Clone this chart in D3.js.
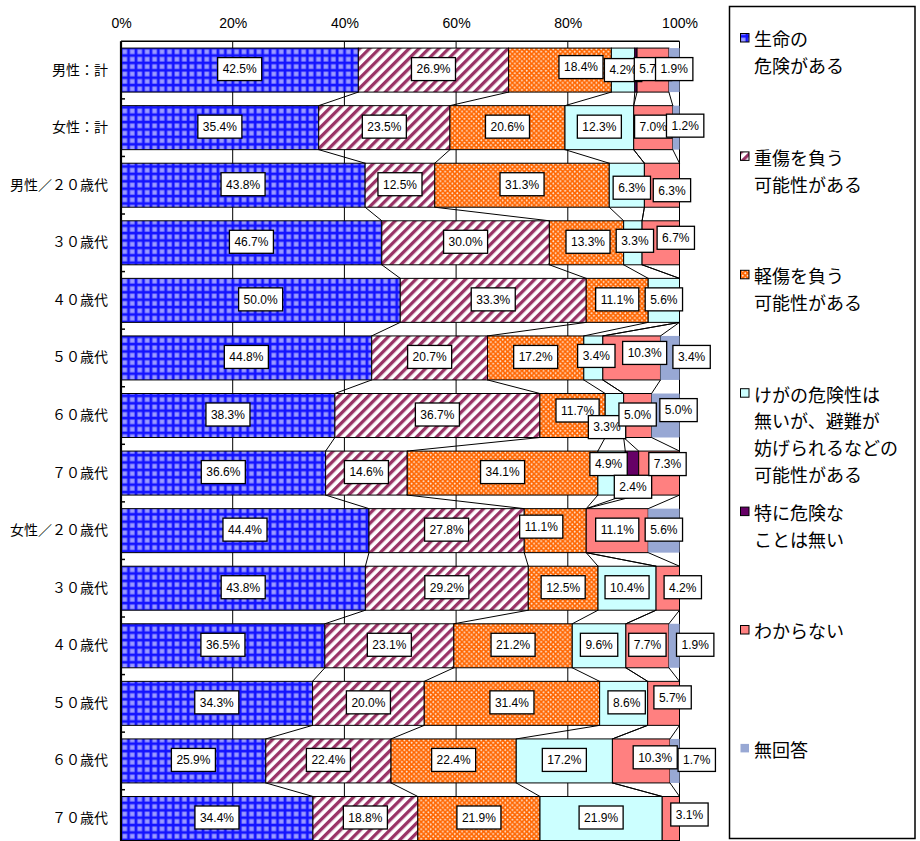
<!DOCTYPE html>
<html>
<head>
<meta charset="utf-8">
<script src="https://cdn.jsdelivr.net/npm/d3@7"></script>
<style>
  body { margin: 0; background: #fff; }
  svg { display: block; }
</style>
</head>
<body>
<svg id="chart" width="920" height="841"></svg>
<script>
// ---- data ----
const categories = ["男性：計", "女性：計", "男性／２０歳代", "３０歳代", "４０歳代", "５０歳代", "６０歳代", "７０歳代",
                    "女性／２０歳代", "３０歳代", "４０歳代", "５０歳代", "６０歳代", "７０歳代"];
const seriesNames = ["生命の危険がある", "重傷を負う可能性がある", "軽傷を負う可能性がある",
                     "けがの危険性は無いが、避難が妨げられるなどの可能性がある", "特に危険なことは無い", "わからない", "無回答"];
const legendLines = [["生命の", "危険がある"], ["重傷を負う", "可能性がある"], ["軽傷を負う", "可能性がある"],
                     ["けがの危険性は", "無いが、避難が", "妨げられるなどの", "可能性がある"],
                     ["特に危険な", "ことは無い"], ["わからない"], ["無回答"]];
const lifeThreat    = [42.5, 35.4, 43.8, 46.7, 50.0, 44.8, 38.3, 36.6, 44.4, 43.8, 36.5, 34.3, 25.9, 34.4];
const seriousInjury = [26.9, 23.5, 12.5, 30.0, 33.3, 20.7, 36.7, 14.6, 27.8, 29.2, 23.1, 20.0, 22.4, 18.8];
const minorInjury   = [18.4, 20.6, 31.3, 13.3, 11.1, 17.2, 11.7, 34.1, 11.1, 12.5, 21.2, 31.4, 22.4, 21.9];
const evacuation    = [4.2, 12.3, 6.3, 3.3, 5.6, 3.4, 3.3, 4.9, 0, 10.4, 9.6, 8.6, 17.2, 21.9];
const noDanger      = [0.4, 0, 0, 0, 0, 0, 0, 2.4, 0, 0, 0, 0, 0, 0];
const unknown       = [5.7, 7.0, 6.3, 6.7, 0, 10.3, 5.0, 7.3, 11.1, 4.2, 7.7, 5.7, 10.3, 3.1];
const noAnswer      = [1.9, 1.2, 0, 0, 0, 3.4, 5.0, 0, 5.6, 0, 1.9, 0, 1.7, 0];
const tickValues    = [0, 20, 40, 60, 80, 100];

const seriesValues = [lifeThreat, seriousInjury, minorInjury, evacuation, noDanger, unknown, noAnswer];
const rows = categories.map((c, i) => {
  const r = { idx: i };
  seriesNames.forEach((s, k) => { r[s] = seriesValues[k][i]; });
  return r;
});

// ---- layout ----
const svg = d3.select("#chart");
const plotTop = 41.3;
const x = d3.scaleLinear().domain([0, 1]).range([121, 679.5]);
const y = d3.scaleBand().domain(d3.range(categories.length))
  .range([plotTop, plotTop + 14 * 57.57]).paddingInner(0.2357).paddingOuter(0.1178);
const bw = y.bandwidth();

// label nudges for crowded segments: [row, series, dx, dy]
const labelNudges = [
  [0, 2, 21, -2], [0, 3, 0, 1],
  [1, 6, 9, -1],
  [2, 3, 5, 3.5], [2, 5, 10, 6],
  [3, 2, 1.5, 0], [3, 3, 2, -1], [3, 5, 15, -4],
  [5, 3, 3, -1], [5, 5, 13, -4], [5, 6, 21.6, 0],
  [6, 2, 5, -4], [6, 3, -7.4, 12.6], [6, 6, 13, -4.4],
  [7, 3, -3, -8], [7, 4, 1, 14.7], [7, 5, 8.4, -8],
  [8, 2, -14, -3],
  [9, 5, 15, 0],
  [10, 6, 21, 0],
  [11, 3, 3, 0], [11, 5, 9, -5],
  [12, 5, 14, -2.6], [12, 6, 22, 0],
  [13, 5, 18.6, -3]
];
const nudge = new Map(labelNudges.map(d => [d[0] + "_" + d[1], [d[2], d[3]]]));

// ---- fill patterns ----
const defs = svg.append("defs");
const pGrid = defs.append("pattern").attr("id", "pat-grid").attr("patternUnits", "userSpaceOnUse")
  .attr("width", 7.45).attr("height", 7.4).attr("x", 121).attr("y", 48);
pGrid.append("rect").attr("width", 7.45).attr("height", 7.4).attr("fill", "#1414ff");
pGrid.append("rect").attr("x", 1.4).attr("y", 1.4).attr("width", 4.8).attr("height", 4.8).attr("fill", "#8a8aff");
pGrid.append("rect").attr("x", 2.3).attr("y", 2.3).attr("width", 3).attr("height", 3).attr("fill", "#9c9cff");

const pStripe = defs.append("pattern").attr("id", "pat-stripe").attr("patternUnits", "userSpaceOnUse")
  .attr("width", 7).attr("height", 7).attr("patternTransform", "rotate(45)");
pStripe.append("rect").attr("width", 7).attr("height", 7).attr("fill", "#ffffff");
pStripe.append("rect").attr("width", 3.3).attr("height", 7).attr("fill", "#993366");

// orange trellis: white diamonds on orange
const pDots = defs.append("pattern").attr("id", "pat-dots").attr("patternUnits", "userSpaceOnUse")
  .attr("width", 4.8).attr("height", 4.8);
pDots.append("rect").attr("width", 4.8).attr("height", 4.8).attr("fill", "#ff6600");
pDots.append("path").attr("d", "M1.2,0.1 L2.3,1.2 L1.2,2.3 L0.1,1.2 Z").attr("fill", "#fff3e8");
pDots.append("path").attr("d", "M3.6,2.5 L4.7,3.6 L3.6,4.7 L2.5,3.6 Z").attr("fill", "#fff3e8");

const fills = ["url(#pat-grid)", "url(#pat-stripe)", "url(#pat-dots)", "#ccffff", "#660066", "#ff8080", "#98a8d4"];
const strokes = ["#000", "#000", "#000", "#000", "#000", "#000", "none"];

// ---- gridlines and axes ----
const plotBottom = 860;
svg.append("g").selectAll("line").data(tickValues).join("line")
  .attr("x1", d => x(d / 100)).attr("x2", d => x(d / 100))
  .attr("y1", plotTop).attr("y2", plotBottom)
  .attr("stroke", "#000").attr("stroke-width", 1);

const xAxis = d3.axisTop(x).tickValues(tickValues.map(d => d / 100))
  .tickFormat(d => Math.round(d * 100) + "%").tickSize(0).tickPadding(13);
svg.append("g").attr("transform", `translate(0,${plotTop})`).call(xAxis)
  .call(g => g.select(".domain").remove())
  .call(g => g.selectAll("text").attr("font-family", "'Liberation Sans', Arial, sans-serif")
    .attr("font-size", 14).attr("fill", "#000"));
svg.append("line").attr("x1", x(0)).attr("x2", x(1)).attr("y1", plotTop).attr("y2", plotTop)
  .attr("stroke", "#000").attr("stroke-width", 1.5);

// ---- stacked bars ----
const stack = d3.stack().keys(seriesNames).offset(d3.stackOffsetExpand);
const stacked = stack(rows);

const layers = svg.append("g").selectAll("g").data(stacked).join("g")
  .attr("fill", (d, k) => fills[k]).attr("stroke", (d, k) => strokes[k]).attr("stroke-width", 1);
layers.selectAll("rect").data(d => d.filter(p => p[1] > p[0])).join("rect")
  .attr("x", p => x(p[0])).attr("width", p => x(p[1]) - x(p[0]))
  .attr("y", p => y(p.data.idx)).attr("height", bw);

// series lines connecting segment edges of neighbouring bars
const seriesLines = [];
stacked.forEach((layer, k) => {
  for (let i = 0; i < layer.length - 1; i++) {
    seriesLines.push({ x1: x(layer[i][1]), y1: y(i) + bw, x2: x(layer[i + 1][1]), y2: y(i + 1) });
  }
});
svg.append("g").selectAll("line").data(seriesLines).join("line")
  .attr("x1", d => d.x1).attr("y1", d => d.y1).attr("x2", d => d.x2).attr("y2", d => d.y2)
  .attr("stroke", "#000").attr("stroke-width", 1);

// category axis
const yAxis = d3.axisLeft(y).tickFormat(i => categories[i]).tickSize(0).tickPadding(13);
svg.append("g").attr("transform", `translate(${x(0)},0)`).call(yAxis)
  .call(g => g.select(".domain").remove())
  .call(g => g.selectAll("text").attr("font-family", "'Noto Sans CJK JP', sans-serif")
    .attr("font-size", 14).attr("fill", "#000"));
svg.append("line").attr("x1", x(0)).attr("x2", x(0)).attr("y1", plotTop).attr("y2", plotBottom)
  .attr("stroke", "#000").attr("stroke-width", 2.2);
svg.append("g").selectAll("line").data(d3.range(1, categories.length)).join("line")
  .attr("x1", x(0)).attr("x2", x(0) + 4)
  .attr("y1", i => y(i) - y.step() * y.paddingInner() / 2)
  .attr("y2", i => y(i) - y.step() * y.paddingInner() / 2)
  .attr("stroke", "#000").attr("stroke-width", 1.5);

// ---- value labels ----
const labels = [];
stacked.forEach((layer, k) => {
  layer.forEach((p, i) => {
    const v = seriesValues[k][i];
    if (v < 1) return;
    const n = nudge.get(i + "_" + k) || [0, 0];
    labels.push({ row: i, k, text: v.toFixed(1) + "%",
      cx: x((p[0] + p[1]) / 2) + n[0], cy: y(i) + bw / 2 - 1 + n[1] });
  });
});
labels.sort((a, b) => a.row - b.row || a.k - b.k);
const lab = svg.append("g").selectAll("g").data(labels).join("g")
  .attr("transform", d => `translate(${d.cx},${d.cy})`);
lab.append("rect").attr("fill", "#fff").attr("stroke", "#000").attr("stroke-width", 1.3);
lab.append("text").text(d => d.text)
  .attr("text-anchor", "middle").attr("dy", "0.36em")
  .attr("font-family", "'Liberation Sans', Arial, sans-serif").attr("font-size", 12).attr("fill", "#000");
lab.each(function () {
  const g = d3.select(this);
  const w = g.select("text").node().getComputedTextLength() + 10;
  g.select("rect").attr("x", -w / 2).attr("y", -11.5).attr("width", w).attr("height", 23);
});

// ---- legend ----
const legend = svg.append("g");
legend.append("rect").attr("x", 729.5).attr("y", 6.5).attr("width", 185.5).attr("height", 832)
  .attr("fill", "#fff").attr("stroke", "#000").attr("stroke-width", 1.5);
const items = legend.selectAll("g.item").data(seriesNames).join("g").attr("class", "item")
  .attr("transform", (d, k) => `translate(0,${40 + k * 118.4})`);
items.append("rect").attr("x", 740.5).attr("y", -6.5).attr("width", 8.5).attr("height", 8.5)
  .attr("fill", (d, k) => fills[k]).attr("stroke", (d, k) => strokes[k] === "none" ? "none" : "#000")
  .attr("stroke-width", 1);
items.each(function (d, k) {
  d3.select(this).selectAll("text").data(legendLines[k]).join("text")
    .attr("x", 754).attr("y", (t, j) => j * 26.8).attr("dy", "0.36em")
    .attr("font-family", "'Noto Sans CJK JP', sans-serif").attr("font-size", 18).attr("fill", "#000")
    .text(t => t);
});
</script>
</body>
</html>
